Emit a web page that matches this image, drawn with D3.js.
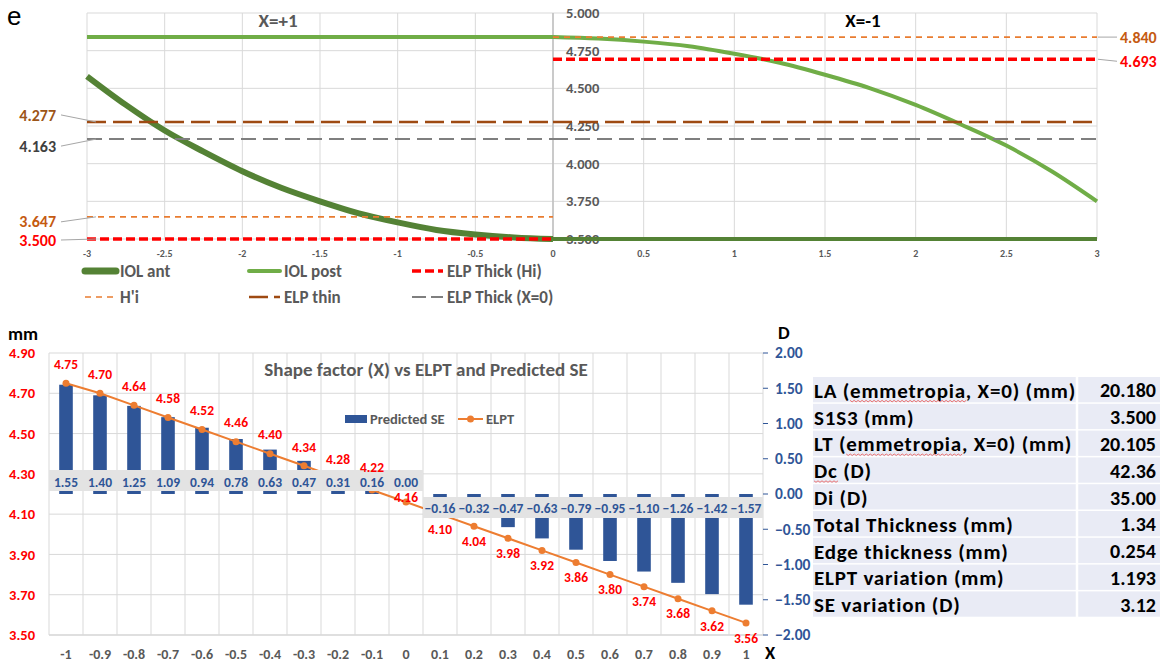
<!DOCTYPE html>
<html>
<head>
<meta charset="utf-8">
<script src="https://cdn.jsdelivr.net/npm/d3@7"></script>
<style>
  body { margin: 0; background: #fff; }
  text { font-family: Carlito, Calibri, Lato, sans-serif; }
</style>
</head>
<body>
<div id="fig"></div>
<script>

// ---- top chart data ----
var topXLeft = [-3, -2.75, -2.5, -2.25, -2, -1.75, -1.5, -1.25, -1, -0.75, -0.5, -0.25, 0];
var iolAntLeft = [4.58, 4.39, 4.22, 4.08, 3.95, 3.84, 3.75, 3.67, 3.61, 3.56, 3.53, 3.51, 3.50];
var topXRight = [0, 0.25, 0.5, 0.75, 1, 1.25, 1.5, 1.75, 2, 2.25, 2.5, 2.75, 3];
var iolPostRight = [4.84, 4.83, 4.81, 4.78, 4.73, 4.67, 4.59, 4.50, 4.39, 4.26, 4.12, 3.95, 3.75];
var iolPostLeft = 4.840, iolAntRight = 3.500;
var hiLeft = 3.647, hiRight = 4.840;
var elpHiLeft = 3.500, elpHiRight = 4.693;
var elpThin = 4.277, elpThickX0 = 4.163;
var topYTicks = [3.5, 3.75, 4, 4.25, 4.5, 4.75, 5];
var topXTicksLeft = [-3, -2.5, -2, -1.5, -1, -0.5, 0];
var topXTicksRight = [0.5, 1, 1.5, 2, 2.5, 3];

// ---- bottom chart data ----
var shapeX = ['-1', '-0.9', '-0.8', '-0.7', '-0.6', '-0.5', '-0.4', '-0.3', '-0.2', '-0.1', '0',
              '0.1', '0.2', '0.3', '0.4', '0.5', '0.6', '0.7', '0.8', '0.9', '1'];
var predictedSE = [1.55, 1.40, 1.25, 1.09, 0.94, 0.78, 0.63, 0.47, 0.31, 0.16, 0.00,
                   -0.16, -0.32, -0.47, -0.63, -0.79, -0.95, -1.10, -1.26, -1.42, -1.57];
var elpt = [4.75, 4.70, 4.64, 4.58, 4.52, 4.46, 4.40, 4.34, 4.28, 4.22, 4.16,
            4.10, 4.04, 3.98, 3.92, 3.86, 3.80, 3.74, 3.68, 3.62, 3.56];
var leftTicks = [3.5, 3.7, 3.9, 4.1, 4.3, 4.5, 4.7, 4.9];
var rightTicks = [-2, -1.5, -1, -0.5, 0, 0.5, 1, 1.5, 2];

// ---- table ----
var tableLabels = ['LA (emmetropia, X=0) (mm)', 'S1S3 (mm)', 'LT (emmetropia, X=0) (mm)', 'Dc (D)', 'Di (D)',
                   'Total Thickness (mm)', 'Edge thickness (mm)', 'ELPT variation (mm)', 'SE variation (D)'];
var tableValues = ['20.180', '3.500', '20.105', '42.36', '35.00', '1.34', '0.254', '1.193', '3.12'];
var typos = [[0, 'emmetropia'], [2, 'emmetropia'], [3, 'Dc']];

var svg = d3.select('#fig').append('svg')
    .attr('width', 1163)
    .attr('height', 666);

var styles = {
  ant:   {stroke: '#548235', width: 6, dash: null},
  post:  {stroke: '#70AD47', width: 4, dash: null},
  hi:    {stroke: '#FF0000', width: 3.5, dash: '9,4'},
  hprime:{stroke: '#E97C30', width: 1.6, dash: '6,5'},
  thin:  {stroke: '#9E4A12', width: 2.5, dash: '19,7'},
  x0:    {stroke: '#7F7F7F', width: 2, dash: '15,7'}
};

svg.append('text')
  .attr('x', 7).attr('y', 25)
  .style('font-family', 'Liberation Sans, Arial, sans-serif')
  .style('font-size', '26px')
  .text('e');

// ================= TOP CHART =================
var xLeft = d3.scaleLinear().domain([-3, 0]).range([87, 553]),
    xRight = d3.scaleLinear().domain([0, 3]).range([553, 1097]),
    yTop = d3.scaleLinear().domain([3.5, 5]).range([239, 13]);

var topG = svg.append('g');

topG.selectAll('.hg').data(topYTicks).enter().append('line')
  .attr('x1', xLeft(-3)).attr('x2', xRight(3))
  .attr('y1', function(d) { return yTop(d); })
  .attr('y2', function(d) { return yTop(d); })
  .attr('stroke', '#D9D9D9');

topG.selectAll('.vgl').data(topXTicksLeft).enter().append('line')
  .attr('x1', function(d) { return xLeft(d); })
  .attr('x2', function(d) { return xLeft(d); })
  .attr('y1', yTop(5)).attr('y2', yTop(3.5))
  .attr('stroke', '#D9D9D9');

topG.selectAll('.vgr').data(topXTicksRight).enter().append('line')
  .attr('x1', function(d) { return xRight(d); })
  .attr('x2', function(d) { return xRight(d); })
  .attr('y1', yTop(5)).attr('y2', yTop(3.5))
  .attr('stroke', '#D9D9D9');

// axis of the right panel sits on x = 0
topG.append('line')
  .attr('x1', xRight(0)).attr('x2', xRight(0))
  .attr('y1', yTop(5)).attr('y2', yTop(3.5))
  .attr('stroke', '#BFBFBF').attr('stroke-width', 1.5);

topG.selectAll('.yl').data(topYTicks).enter().append('text')
  .attr('x', xRight(0) + 13)
  .attr('y', function(d) { return yTop(d); })
  .attr('dy', '0.35em')
  .attr('fill', '#595959')
  .style('font-size', '14.5px').style('font-weight', 'bold')
  .text(function(d) { return d3.format('.3f')(d); });

topG.selectAll('.xll').data(topXTicksLeft).enter().append('text')
  .attr('x', function(d) { return xLeft(d); })
  .attr('y', 253).attr('dy', '0.35em')
  .attr('text-anchor', 'middle')
  .attr('fill', '#595959')
  .style('font-size', '10px').style('font-weight', 'bold')
  .text(function(d) { return d; });

topG.selectAll('.xlr').data(topXTicksRight).enter().append('text')
  .attr('x', function(d) { return xRight(d); })
  .attr('y', 253).attr('dy', '0.35em')
  .attr('text-anchor', 'middle')
  .attr('fill', '#595959')
  .style('font-size', '10px').style('font-weight', 'bold')
  .text(function(d) { return d; });

topG.append('text').attr('x', 278).attr('y', 20).attr('dy', '0.35em')
  .attr('text-anchor', 'middle').attr('fill', '#595959')
  .style('font-size', '19px').style('font-weight', 'bold').text('X=+1');
topG.append('text').attr('x', 863).attr('y', 20).attr('dy', '0.35em')
  .attr('text-anchor', 'middle').attr('fill', '#000')
  .style('font-size', '19px').style('font-weight', 'bold').text('X=-1');

var drawSeries = (xs, pts, st, w) => {
  var line = d3.line()
    .x(function(d) { return xs(d[0]); })
    .y(function(d) { return yTop(d[1]); })
    .curve(d3.curveMonotoneX);
  topG.append('path')
    .datum(pts)
    .attr('d', line)
    .attr('fill', 'none')
    .attr('stroke', st.stroke)
    .attr('stroke-width', w || st.width)
    .attr('stroke-dasharray', st.dash);
};

var flat = (xs, v) => [[xs.domain()[0], v], [xs.domain()[1], v]];

drawSeries(xLeft, d3.zip(topXLeft, iolAntLeft), styles.ant);
drawSeries(xRight, flat(xRight, iolAntRight), styles.ant, 4);
drawSeries(xLeft, flat(xLeft, iolPostLeft), styles.post);
drawSeries(xRight, d3.zip(topXRight, iolPostRight), styles.post);
drawSeries(xLeft, flat(xLeft, elpHiLeft), styles.hi);
drawSeries(xRight, flat(xRight, elpHiRight), styles.hi);
drawSeries(xLeft, flat(xLeft, hiLeft), styles.hprime);
drawSeries(xRight, flat(xRight, hiRight), styles.hprime);
drawSeries(xLeft, flat(xLeft, elpThin), styles.thin);
drawSeries(xRight, flat(xRight, elpThin), styles.thin);
drawSeries(xLeft, flat(xLeft, elpThickX0), styles.x0);
drawSeries(xRight, flat(xRight, elpThickX0), styles.x0);

// callout labels with leader lines
var callouts = [
  {v: elpThin, color: '#9C5518', side: 'L', dy: -7},
  {v: elpThickX0, color: '#404040', side: 'L', dy: 7},
  {v: hiLeft, color: '#C55A11', side: 'L', dy: 5},
  {v: elpHiLeft, color: '#FF0000', side: 'L', dy: 1},
  {v: hiRight, color: '#C55A11', side: 'R', dy: 0},
  {v: elpHiRight, color: '#FF0000', side: 'R', dy: 2}
];
callouts.forEach(function(c) {
  var ly = yTop(c.v), ty = ly + c.dy;
  if (c.side == 'L') {
    topG.append('line').attr('x1', 61).attr('y1', ty).attr('x2', 96).attr('y2', ly)
      .attr('stroke', '#A6A6A6');
    topG.append('text').attr('x', 56).attr('y', ty).attr('dy', '0.35em')
      .attr('text-anchor', 'end').attr('fill', c.color)
      .style('font-size', '16px').style('font-weight', 'bold')
      .text(d3.format('.3f')(c.v));
  } else {
    topG.append('line').attr('x1', 1098).attr('y1', ly).attr('x2', 1117).attr('y2', ty)
      .attr('stroke', '#A6A6A6');
    topG.append('text').attr('x', 1120).attr('y', ty).attr('dy', '0.35em')
      .attr('fill', c.color)
      .style('font-size', '16px').style('font-weight', 'bold')
      .text(d3.format('.3f')(c.v));
  }
});

// top legend
var legendItems = [
  {name: 'IOL ant', st: styles.ant, x: 85, y: 271, w: 7},
  {name: 'IOL post', st: styles.post, x: 249, y: 271},
  {name: 'ELP Thick (Hi)', st: styles.hi, x: 412, y: 271},
  {name: "H'i", st: styles.hprime, x: 85, y: 297},
  {name: 'ELP thin', st: styles.thin, x: 249, y: 297, dash: '19,6'},
  {name: 'ELP Thick (X=0)', st: styles.x0, x: 412, y: 297, dash: '14,5'}
];
var lg = svg.append('g');
legendItems.forEach(function(d) {
  lg.append('line')
    .attr('x1', d.x).attr('x2', d.x + 31).attr('y1', d.y).attr('y2', d.y)
    .attr('stroke', d.st.stroke)
    .attr('stroke-width', d.w || d.st.width)
    .attr('stroke-linecap', d.st.dash ? 'butt' : 'round')
    .attr('stroke-dasharray', d.dash || d.st.dash);
  lg.append('text')
    .attr('x', d.x + 35).attr('y', d.y).attr('dy', '0.35em')
    .attr('fill', '#595959')
    .style('font-size', '17px').style('font-weight', 'bold')
    .text(d.name);
});

// ================= BOTTOM CHART =================
var xb = d3.scaleBand().domain(shapeX).range([49, 763]),
    yL = d3.scaleLinear().domain([3.5, 4.9]).range([635, 353]),
    yR = d3.scaleLinear().domain([-2, 2]).range([635, 353]);
var bw = xb.bandwidth();

var bot = svg.append('g');

bot.selectAll('.hg').data(leftTicks).enter().append('line')
  .attr('x1', 49).attr('x2', 763)
  .attr('y1', function(d) { return yL(d); })
  .attr('y2', function(d) { return yL(d); })
  .attr('stroke', function(d) { return d == 3.5 ? '#BFBFBF' : '#D9D9D9'; });

bot.selectAll('.vg').data(shapeX.concat(['end'])).enter().append('line')
  .attr('x1', function(d) { return d == 'end' ? 763 : xb(d); })
  .attr('x2', function(d) { return d == 'end' ? 763 : xb(d); })
  .attr('y1', yL(4.9)).attr('y2', yL(3.5))
  .attr('stroke', '#D9D9D9');

bot.selectAll('.lt').data(leftTicks).enter().append('text')
  .attr('x', 35).attr('y', function(d) { return yL(d); }).attr('dy', '0.35em')
  .attr('text-anchor', 'end').attr('fill', '#FF0000')
  .style('font-size', '14.5px').style('font-weight', 'bold')
  .text(function(d) { return d3.format('.2f')(d); });

bot.selectAll('.rtk').data(rightTicks).enter().append('line')
  .attr('x1', 763).attr('x2', 768)
  .attr('y1', function(d) { return yR(d); })
  .attr('y2', function(d) { return yR(d); })
  .attr('stroke', '#2F5597');

bot.selectAll('.rt').data(rightTicks).enter().append('text')
  .attr('x', 775).attr('y', function(d) { return yR(d); }).attr('dy', '0.35em')
  .attr('fill', '#2F5597')
  .style('font-size', '15.5px').style('font-weight', 'bold')
  .text(function(d) { return d3.format('.2f')(d); });

bot.selectAll('.xt').data(shapeX).enter().append('text')
  .attr('x', function(d) { return xb(d) + bw / 2; })
  .attr('y', 654).attr('dy', '0.35em')
  .attr('text-anchor', 'middle').attr('fill', '#595959')
  .style('font-size', '14px').style('font-weight', 'bold')
  .text(function(d) { return d; });

// bars (Predicted SE on right axis)
bot.selectAll('.bar').data(predictedSE).enter().append('rect')
  .attr('x', function(d, i) { return xb(shapeX[i]) + bw * 0.3; })
  .attr('width', bw * 0.4)
  .attr('y', function(d) { return Math.min(yR(d), yR(0)); })
  .attr('height', function(d) { return Math.abs(yR(d) - yR(0)); })
  .attr('fill', '#2F5597');

// ELPT line on left axis
var elptLine = d3.line()
  .x(function(d, i) { return xb(shapeX[i]) + bw / 2; })
  .y(function(d) { return yL(d); });

bot.append('path')
  .datum(elpt)
  .attr('d', elptLine)
  .attr('fill', 'none')
  .attr('stroke', '#ED7D31')
  .attr('stroke-width', 2);

bot.selectAll('.dot').data(elpt).enter().append('circle')
  .attr('cx', function(d, i) { return xb(shapeX[i]) + bw / 2; })
  .attr('cy', function(d) { return yL(d); })
  .attr('r', 3.5)
  .attr('fill', '#ED7D31');

// bar value labels on grey boxes
bot.selectAll('.lbox').data(predictedSE).enter().append('rect')
  .attr('x', function(d, i) { return xb(shapeX[i]); })
  .attr('width', bw)
  .attr('y', function(d) { return d >= 0 ? yR(0) - 24 : yR(0) + 3; })
  .attr('height', 21)
  .attr('fill', '#E3E3E3');

bot.selectAll('.lval').data(predictedSE).enter().append('text')
  .attr('x', function(d, i) { return xb(shapeX[i]) + bw / 2; })
  .attr('y', function(d) { return d >= 0 ? yR(0) - 12 : yR(0) + 14; })
  .attr('dy', '0.35em')
  .attr('text-anchor', 'middle').attr('fill', '#2F5597')
  .style('font-size', '13.5px').style('font-weight', 'bold')
  .text(function(d) { return d3.format('.2f')(d); });

// ELPT value labels; the ones near the grey strip are nudged to stay readable
bot.selectAll('.eval').data(elpt).enter().append('text')
  .attr('x', function(d, i) { return xb(shapeX[i]) + bw / 2; })
  .attr('y', function(d, i) {
    if (predictedSE[i] == 0) return yL(d) - 5;
    if (predictedSE[i] > 0 && predictedSE[i] < 0.2) return yL(d) - 23;
    return predictedSE[i] > 0 ? yL(d) - 19 : yL(d) + 15;
  })
  .attr('dy', '0.35em')
  .attr('text-anchor', 'middle').attr('fill', '#FF0000')
  .style('font-size', '13.5px').style('font-weight', 'bold')
  .text(function(d) { return d3.format('.2f')(d); });

bot.append('text').attr('x', 426).attr('y', 369).attr('dy', '0.35em')
  .attr('text-anchor', 'middle').attr('fill', '#595959')
  .style('font-size', '19px').style('font-weight', 'bold')
  .text('Shape factor (X) vs ELPT and Predicted SE');

// bottom legend
bot.append('rect').attr('x', 345).attr('y', 415).attr('width', 22).attr('height', 8).attr('fill', '#2F5597');
bot.append('text').attr('x', 370).attr('y', 419).attr('dy', '0.35em').attr('fill', '#595959')
  .style('font-size', '14.5px').style('font-weight', 'bold').text('Predicted SE');
bot.append('line').attr('x1', 458).attr('x2', 483).attr('y1', 419).attr('y2', 419)
  .attr('stroke', '#ED7D31').attr('stroke-width', 2);
bot.append('circle').attr('cx', 470.5).attr('cy', 419).attr('r', 3.5).attr('fill', '#ED7D31');
bot.append('text').attr('x', 486).attr('y', 419).attr('dy', '0.35em').attr('fill', '#595959')
  .style('font-size', '14.5px').style('font-weight', 'bold').text('ELPT');

bot.append('text').attr('x', 8).attr('y', 334).attr('dy', '0.35em')
  .style('font-size', '18.5px').style('font-weight', 'bold').text('mm');
bot.append('text').attr('x', 778).attr('y', 333).attr('dy', '0.35em')
  .style('font-size', '18.5px').style('font-weight', 'bold').text('D');
bot.append('text').attr('x', 765).attr('y', 653).attr('dy', '0.35em')
  .style('font-size', '18.5px').style('font-weight', 'bold').text('X');

// ================= TABLE =================
var tx0 = 813, tx1 = 1077, tx2 = 1160, ty0 = 377, rh = 26.8;
var tbl = svg.append('g');

tbl.selectAll('.row').data(tableLabels).enter().append('rect')
  .attr('x', tx0).attr('width', tx2 - tx0)
  .attr('y', function(d, i) { return ty0 + i * rh; })
  .attr('height', rh - 1.5)
  .attr('fill', '#E9EBF5');

tbl.append('line').attr('x1', tx1).attr('x2', tx1)
  .attr('y1', ty0).attr('y2', ty0 + tableLabels.length * rh)
  .attr('stroke', '#fff').attr('stroke-width', 2.5);

var labels = tbl.selectAll('.tl').data(tableLabels).enter().append('text')
  .attr('x', tx0 + 1)
  .attr('y', function(d, i) { return ty0 + i * rh + rh / 2; })
  .attr('dy', '0.35em')
  .style('font-size', '21px').style('font-weight', 'bold')
  .style('letter-spacing', '0.8px')
  .text(function(d) { return d; });

tbl.selectAll('.tv').data(tableValues).enter().append('text')
  .attr('x', tx2 - 4)
  .attr('y', function(d, i) { return ty0 + i * rh + rh / 2; })
  .attr('dy', '0.35em')
  .attr('text-anchor', 'end')
  .style('font-size', '20px').style('font-weight', 'bold')
  .text(function(d) { return d; });

// spell-check squiggles as in the source
typos.forEach(function(t) {
  var node = labels.nodes()[t[0]];
  var start = tableLabels[t[0]].indexOf(t[1]);
  var x0 = tx0 + 1 + (start > 0 ? node.getSubStringLength(0, start) : 0);
  var w = node.getSubStringLength(start, t[1].length) - 1;
  var y = ty0 + t[0] * rh + rh / 2 + 10;
  var p = d3.path();
  p.moveTo(x0, y);
  for (var x = x0, k = 0; x < x0 + w; x += 2, k++) p.lineTo(x + 2, y + (k % 2 ? 0 : 1.5));
  tbl.append('path').attr('d', p.toString()).attr('fill', 'none')
    .attr('stroke', '#E87070').attr('stroke-width', 1);
});

</script>
</body>
</html>
